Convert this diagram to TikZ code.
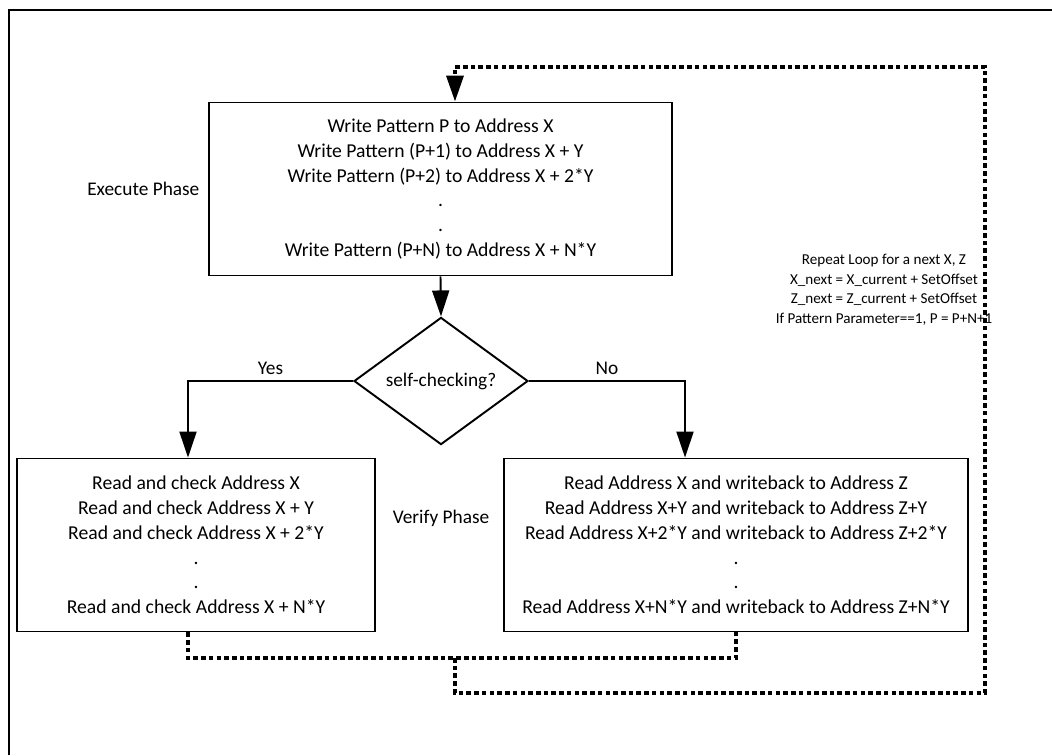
\documentclass[tikz,border=0pt]{standalone}
\usepackage{fontspec}
\setmainfont{Carlito}
\usetikzlibrary{positioning}
\usetikzlibrary{arrows.meta}
\usetikzlibrary{shapes.geometric}

\begin{document}
\begin{tikzpicture}[x=0.02cm, y=-0.02cm, >={Triangle[length=0.52cm, width=0.34cm]},
    box/.style={draw, line width=1.1pt, align=center, font=\fontsize{11.2}{14.1}\selectfont, minimum height=3.46cm},
    decision/.style={draw, diamond, line width=1.1pt, inner sep=0pt, minimum width=3.48cm, minimum height=2.24cm, font=\fontsize{11}{14.1}\selectfont},
    lbl/.style={font=\fontsize{11}{14.1}\selectfont},
    note/.style={align=center, font=\fontsize{8.6}{11.1}\selectfont},
    flow/.style={line width=1.1pt},
    loopline/.style={line width=2pt, dash pattern=on 2.6pt off 1.8pt}]
    \useasboundingbox (0,0) rectangle (1052,755);
    \draw[line width=1.3pt] (9,755) -- (9,10) -- (1052,10);

    % Execute phase
    \node[box, minimum width=9.26cm] (execbox) at (440.5,189) {Write Pattern P to Address X\\ Write Pattern (P+1) to Address X + Y\\ Write Pattern (P+2) to Address X + 2*Y\\ .\\ .\\ Write Pattern (P+N) to Address X + N*Y};
    \node[lbl, left=0.05cm of execbox] (execlbl) {Execute Phase};

    % Decision
    \node[decision] (check) at (441,381) {self-checking?};
    \draw[->, flow] (execbox.south) -- (check.north);

    % Verify phase
    \node[box, minimum width=7.16cm] (readbox) at (196,545) {Read and check Address X\\ Read and check Address X + Y\\ Read and check Address X + 2*Y\\ .\\ .\\ Read and check Address X + N*Y};
    \node[box, minimum width=9.28cm] (wbbox) at (736,545) {Read Address X and writeback to Address Z\\ Read Address X+Y and writeback to Address Z+Y\\ Read Address X+2*Y and writeback to Address Z+2*Y\\ .\\ .\\ Read Address X+N*Y and writeback to Address Z+N*Y};
    \node[lbl] (verlbl) at (441,518) {Verify Phase};

    \draw[->, flow] (check.west) -| node[lbl, pos=0.25, above] (yes) {Yes} ([xshift=-0.16cm]readbox.north);
    \draw[->, flow] (check.east) -| node[lbl, pos=0.25, above] (no) {No} ([xshift=-1.02cm]wbbox.north);

    % Loop back
    \coordinate (join) at (455,658);
    \coordinate (loopbr) at (985,693);
    \coordinate (looptr) at (985,67);
    \draw[loopline] ([xshift=-0.16cm]readbox.south) |- (join) -| (wbbox.south);
    \draw[loopline, ->] (join) |- (loopbr) -- (looptr) -| ([xshift=0.29cm]execbox.north);
    \node[note] (looptext) at (884,290) {Repeat Loop for a next X, Z\\ X\_next = X\_current + SetOffset\\ Z\_next = Z\_current + SetOffset\\ If Pattern Parameter==1, P = P+N+1};
\end{tikzpicture}
\end{document}
